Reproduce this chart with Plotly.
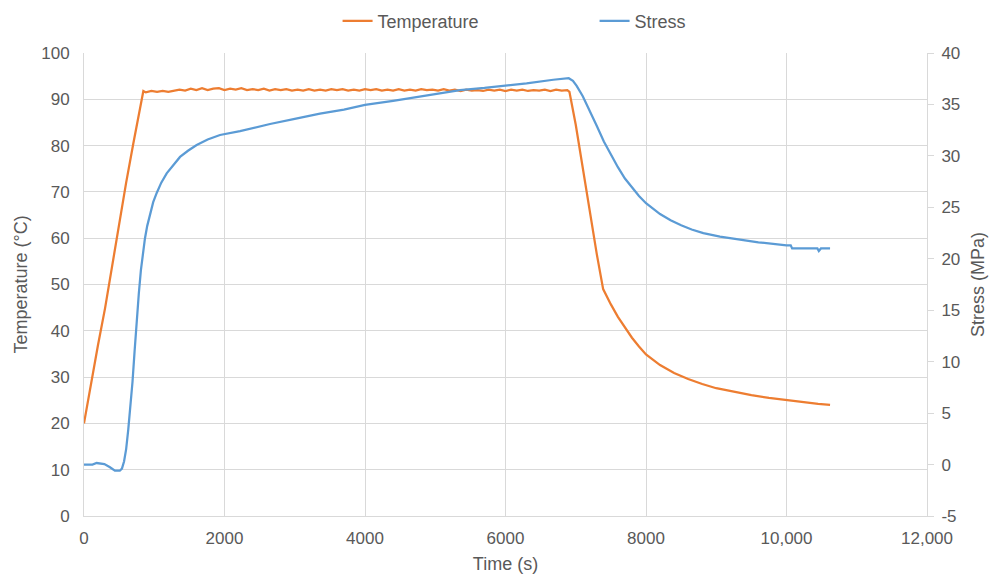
import plotly.graph_objects as go

# ---- Temperature (°C) ----
temp_ramp_t = [0, 100, 200, 300, 400, 500, 600, 700, 800, 845]
temp_ramp_v = [20, 28.8, 37.0, 44.9, 53.9, 63.3, 72.0, 80.3, 88.3, 91.8]

temp_hold_t = [880, 960, 1040, 1120, 1200, 1280, 1360, 1440, 1520, 1600, 1680, 1760, 1840, 1920, 2000,
               2080, 2160, 2240, 2320, 2400, 2480, 2560, 2640, 2720, 2800, 2880, 2960, 3040, 3120, 3200,
               3280, 3360, 3440, 3520, 3600, 3680, 3760, 3840, 3920, 4000, 4080, 4160, 4240, 4320, 4400,
               4480, 4560, 4640, 4720, 4800, 4880, 4960, 5040, 5120, 5200, 5280, 5360, 5440, 5520, 5600,
               5680, 5760, 5840, 5920, 6000, 6080, 6160, 6240, 6320, 6400, 6480, 6560, 6640, 6720, 6800, 6880]
temp_hold_v = [91.5, 91.8, 91.6, 91.8, 91.6, 91.9, 92.1, 91.9, 92.3, 92.0,
               92.4, 92.0, 92.3, 92.4, 92.0, 92.3, 92.1, 92.4, 92.0, 92.2,
               92.0, 92.3, 91.9, 92.2, 92.0, 92.2, 91.9, 92.1, 91.9, 92.2,
               91.9, 92.1, 91.9, 92.2, 92.0, 92.2, 91.9, 92.1, 91.9, 92.2,
               92.0, 92.2, 91.9, 92.1, 91.9, 92.2, 91.9, 92.1, 91.9, 92.2,
               92.0, 92.1, 91.9, 92.2, 91.9, 92.1, 91.8, 92.1, 91.9, 92.0,
               91.8, 92.1, 91.9, 92.1, 91.8, 92.1, 91.9, 92.1, 91.8, 92.0,
               91.9, 92.1, 91.8, 92.1, 91.9, 92.0]

temp_cool_t = [6910, 7000, 7100, 7200, 7300, 7390, 7450, 7500, 7600, 7700, 7800, 7900, 8000,
               8200, 8400, 8600, 8800, 9000, 9250, 9500, 9750, 10000, 10250, 10450, 10620]
temp_cool_v = [91.6, 84.5, 75, 65.5, 56.5, 49, 47.1, 45.7, 43.0, 40.6, 38.5, 36.6, 34.9,
               32.6, 30.9, 29.6, 28.5, 27.6, 26.8, 26.1, 25.5, 25.0, 24.6, 24.2, 24.0]

# ---- Stress (MPa) ----
stress_t = [0, 120, 180, 230, 290, 370, 440, 510, 540, 570,
            600, 630, 660, 690, 720, 750, 780, 810, 840, 868,
            900, 940, 985, 1035, 1100, 1177, 1270, 1367, 1480, 1604,
            1760, 1936, 2221, 2648, 3000, 3359, 3700, 4000, 4400, 4783,
            5100, 5352, 5700, 5993, 6300, 6680, 6900, 6960, 7013, 7100,
            7200, 7300, 7400, 7500, 7600, 7700, 7800, 7900, 8000, 8100,
            8200, 8350, 8500, 8650, 8816, 9053, 9338, 9600, 10000, 10060,
            10080, 10440, 10460, 10490, 10620]
stress_v = [0, 0, 0.15, 0.1, 0.05, -0.26, -0.6, -0.6, -0.4, 0.3,
            1.5, 3.4, 5.6, 8.0, 11.0, 14.0, 16.6, 18.9, 20.6, 22.0,
            23.2, 24.4, 25.5, 26.4, 27.4, 28.3, 29.1, 29.9, 30.5, 31.06,
            31.6, 32.03, 32.4, 33.1, 33.6, 34.1, 34.5, 34.95, 35.35, 35.75,
            36.1, 36.4, 36.6, 36.8, 37.05, 37.4, 37.55, 37.3, 36.8, 35.8,
            34.4, 32.9, 31.4, 30.1, 28.9, 27.8, 26.9, 26.1, 25.4, 24.85,
            24.35, 23.75, 23.25, 22.85, 22.5, 22.15, 21.85, 21.6, 21.3, 21.3,
            21.0, 21.0, 20.75, 21.0, 21.0]

x_tick_vals = [0, 2000, 4000, 6000, 8000, 10000, 12000]
x_tick_text = ["0", "2000", "4000", "6000", "8000", "10,000", "12,000"]
y2_tick_vals = [-5, 0, 5, 10, 15, 20, 25, 30, 35, 40]
y2_tick_text = ["-5", "0", "5", "10", "15", "20", "25", "30", "35", "40"]

temp_t = temp_ramp_t + temp_hold_t + temp_cool_t
temp_v = temp_ramp_v + temp_hold_v + temp_cool_v

FONT = "Liberation Sans, Arial, sans-serif"
GRAY = "#595959"
GRID = "#d9d9d9"
TICK = 17
TITLE = 18

fig = go.Figure()
fig.add_trace(go.Scatter(x=temp_t, y=temp_v, name="Temperature", mode="lines",
                         line=dict(color="#ED7D31", width=2.25), yaxis="y"))
fig.add_trace(go.Scatter(x=stress_t, y=stress_v, name="Stress", mode="lines",
                         line=dict(color="#5B9BD5", width=2.25), yaxis="y2"))

fig.update_layout(
    width=989, height=566,
    margin=dict(l=76, r=70, t=45, b=58, autoexpand=False),
    plot_bgcolor="white", paper_bgcolor="white",
    font=dict(family=FONT, size=TICK, color=GRAY),
    showlegend=True,
    legend=dict(orientation="h", x=0.3008, xanchor="left", y=1.069, yanchor="middle",
                entrywidth=212, entrywidthmode="pixels",
                font=dict(family=FONT, size=TITLE, color=GRAY), itemwidth=30),
    xaxis=dict(range=[0, 12000], tickvals=x_tick_vals, ticktext=x_tick_text,
               showgrid=True, gridcolor=GRID, gridwidth=1,
               showline=True, linecolor=GRID, linewidth=1, ticks="", zeroline=False,
               ticklabelstandoff=7,
               title=dict(text="Time (s)", font=dict(size=TITLE, color=GRAY), standoff=9),
               tickfont=dict(size=TICK, color=GRAY)),
    yaxis=dict(range=[0, 100], dtick=10, showgrid=True, gridcolor=GRID, gridwidth=1,
               showline=True, linecolor=GRID, linewidth=1, ticks="", zeroline=False,
               ticklabelstandoff=10,
               title=dict(text="Temperature (°C)", font=dict(size=TITLE, color=GRAY), standoff=8),
               tickfont=dict(size=TICK, color=GRAY)),
    yaxis2=dict(range=[-5, 40], tickvals=y2_tick_vals, ticktext=y2_tick_text,
                overlaying="y", side="right", showgrid=False,
                showline=True, linecolor=GRID, linewidth=1, ticks="outside", ticklen=6,
                tickcolor=GRID, zeroline=False, ticklabelstandoff=4,
                title=dict(text="Stress (MPa)", font=dict(size=TITLE, color=GRAY), standoff=12),
                tickfont=dict(size=TICK, color=GRAY)),
)

fig.write_html("out.html")
